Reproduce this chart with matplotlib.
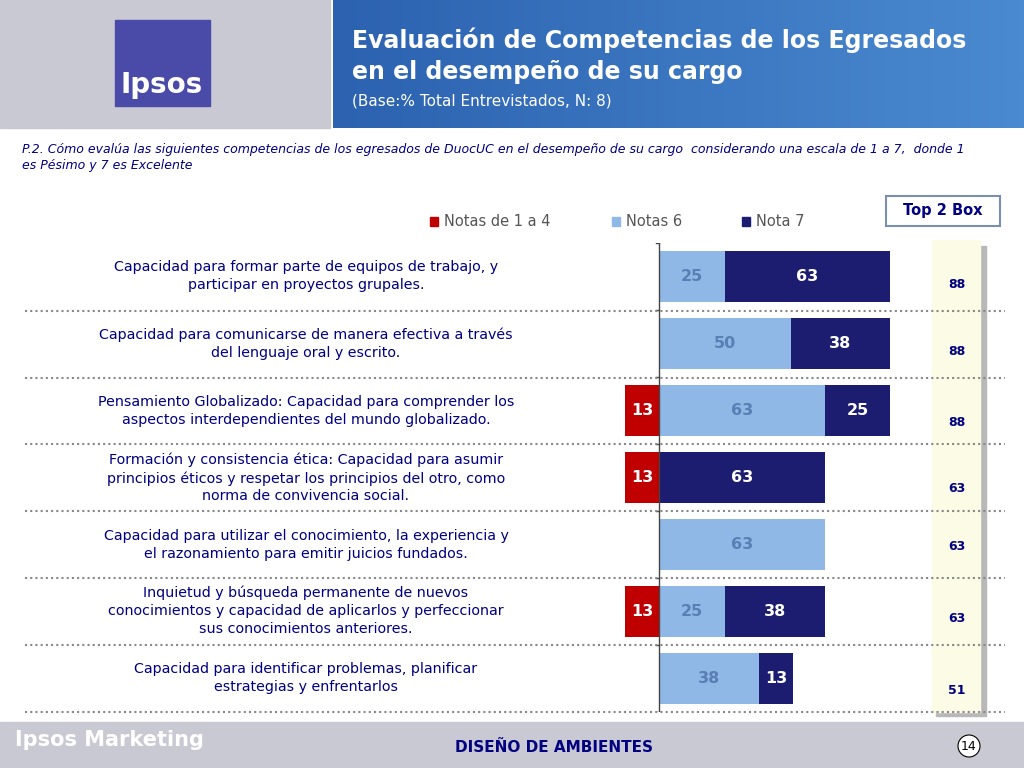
import matplotlib
matplotlib.use("Agg")
import matplotlib.pyplot as plt
from matplotlib.patches import Rectangle
import numpy as np

categories = [
    "Capacidad para formar parte de equipos de trabajo, y\nparticipar en proyectos grupales.",
    "Capacidad para comunicarse de manera efectiva a través\ndel lenguaje oral y escrito.",
    "Pensamiento Globalizado: Capacidad para comprender los\naspectos interdependientes del mundo globalizado.",
    "Formación y consistencia ética: Capacidad para asumir\nprincipios éticos y respetar los principios del otro, como\nnorma de convivencia social.",
    "Capacidad para utilizar el conocimiento, la experiencia y\nel razonamiento para emitir juicios fundados.",
    "Inquietud y búsqueda permanente de nuevos\nconocimientos y capacidad de aplicarlos y perfeccionar\nsus conocimientos anteriores.",
    "Capacidad para identificar problemas, planificar\nestrategias y enfrentarlos",
]
notas_1_4 = [0, 0, 13, 13, 0, 13, 0]
notas_6 = [25, 50, 63, 0, 63, 25, 38]
nota_7 = [63, 38, 25, 63, 0, 38, 13]
top2box = [88, 88, 88, 63, 63, 63, 51]

W, H = 1024, 768
fig = plt.figure(figsize=(10.24, 7.68), dpi=100)
fig.patch.set_facecolor("white")

def fx(x): return x / W
def fy(y): return 1 - y / H

def rect(x0, y0, x1, y1, **kw):
    fig.patches.append(Rectangle((fx(x0), fy(y1)), fx(x1) - fx(x0), fy(y0) - fy(y1),
                                 transform=fig.transFigure, **kw))

# header
rect(0, 0, 330, 128, color="#c9c9d3")
grad = np.linspace(0, 1, 256).reshape(1, -1)
axh = fig.add_axes([fx(333), fy(128), fx(1024) - fx(333), 128 / H])
axh.imshow(grad, aspect="auto", cmap=matplotlib.colors.LinearSegmentedColormap.from_list("b", ["#2c62b0", "#4a8ad0"]))
axh.axis("off")
rect(115, 20, 210, 106, color="#4a4aa8")
fig.text(fx(162), fy(85), "Ipsos", color="white", fontsize=20, fontweight="bold", ha="center", va="center")
fig.text(fx(352), fy(40), "Evaluación de Competencias de los Egresados", color="white", fontsize=17, fontweight="bold", va="center")
fig.text(fx(352), fy(72), "en el desempeño de su cargo", color="white", fontsize=17, fontweight="bold", va="center")
fig.text(fx(352), fy(101), "(Base:% Total Entrevistados, N: 8)", color="white", fontsize=11, va="center")

fig.text(fx(22), fy(158), "P.2. Cómo evalúa las siguientes competencias de los egresados de DuocUC en el desempeño de su cargo  considerando una escala de 1 a 7,  donde 1\nes Pésimo y 7 es Excelente",
         color="#000080", fontsize=9, style="italic", va="center", linespacing=1.3)

# legend
for x, lab, c in [(430, "Notas de 1 a 4", "#c00000"), (612, "Notas 6", "#8fb8e6"), (742, "Nota 7", "#1c1c70")]:
    rect(x, 217, x + 8, 226, color=c)
    fig.text(fx(x + 14), fy(222), lab, color="#555555", fontsize=10.5, va="center")

# top 2 box
fig.patches.append(Rectangle((fx(886), fy(226)), fx(1000) - fx(886), 30 / H, transform=fig.transFigure,
                             facecolor="white", edgecolor="#7a8fb0", lw=1.5))
fig.text(fx(943), fy(210), "Top 2 Box", color="#000080", fontsize=10.5, fontweight="bold", ha="center", va="center")
rect(936, 246, 986, 716, color="#b8b8b8")
rect(932, 240, 980, 712, color="#fbfbe6")

# bars axes
x0px, x1px = 600, 930
zero = 659; scale = 2.63
xmin = (x0px - zero) / scale; xmax = (x1px - zero) / scale
top, bot = 243, 712
ax = fig.add_axes([fx(x0px), fy(bot), fx(x1px) - fx(x0px), (bot - top) / H])
n = len(categories)
ys = np.arange(n)
ax.set_xlim(xmin, xmax); ax.set_ylim(n - 0.5, -0.5)
ax.axis("off")
h = 0.75
ax.barh(ys, [-v for v in notas_1_4], height=h, color="#c00000")
ax.barh(ys, notas_6, height=h, color="#8fb8e6")
ax.barh(ys, nota_7, left=notas_6, height=h, color="#1c1c70")
ax.plot([0, 0], [-0.5, n - 0.5], color="#444444", lw=1)
for y in list(np.arange(n + 1) - 0.5):
    ax.plot([0, -1.2], [y, y], color="#444444", lw=1)
for i in range(n):
    if notas_1_4[i]:
        ax.text(-notas_1_4[i] / 2, i, str(notas_1_4[i]), color="white", fontsize=11.5, fontweight="bold", ha="center", va="center")
    if notas_6[i]:
        ax.text(notas_6[i] / 2, i, str(notas_6[i]), color="#5a7fb5", fontsize=11.5, fontweight="bold", ha="center", va="center")
    if nota_7[i]:
        ax.text(notas_6[i] + nota_7[i] / 2, i, str(nota_7[i]), color="white", fontsize=11.5, fontweight="bold", ha="center", va="center")

row_px = [276, 344, 411, 478, 545, 611, 678]
tb_px = [284, 352, 423, 489, 547, 619, 690]
for i in range(n):
    fig.text(fx(306), fy(row_px[i]), categories[i], color="#000080", fontsize=10.3, ha="center", va="center", linespacing=1.35)
    fig.text(fx(957), fy(tb_px[i]), str(top2box[i]), color="#000080", fontsize=9, fontweight="bold", ha="center", va="center")
for y in [311, 378, 444, 511, 578, 645, 712]:
    fig.lines.append(plt.Line2D([fx(25), fx(1005)], [fy(y), fy(y)], transform=fig.transFigure,
                                color="#888888", lw=1.5, ls=(0, (1, 1.5))))

# footer
rect(0, 722, 1024, 768, color="#c9c9d3")
fig.text(fx(15), fy(740), "Ipsos Marketing", color="white", fontsize=15, fontweight="bold", va="center")
fig.text(fx(554), fy(748), "DISEÑO DE AMBIENTES", color="#000080", fontsize=11, fontweight="bold", ha="center", va="center")
fig.text(fx(969), fy(746), "14", color="black", fontsize=9, ha="center", va="center",
         bbox=dict(boxstyle="circle,pad=0.25", fc="white", ec="black", lw=0.8))

fig.savefig("out.png", dpi=100)
